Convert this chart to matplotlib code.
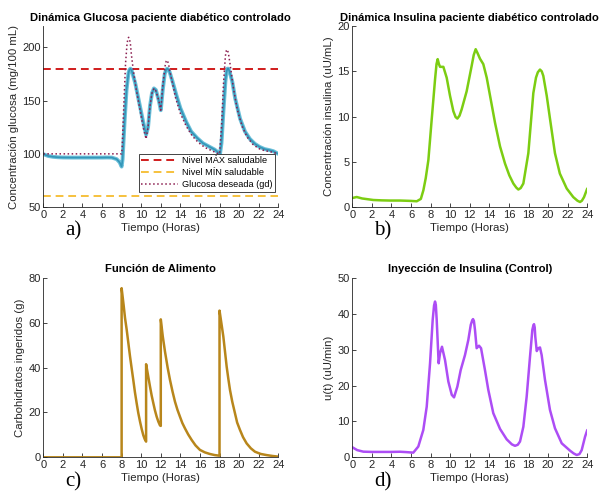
import matplotlib
matplotlib.use("Agg")
import matplotlib.pyplot as plt

plt.rcParams['font.family'] = ['Liberation Sans', 'DejaVu Sans']

# ---- data (time in hours) ----
# a) glucose of the controlled patient
t_glu = [0, 0.5, 1, 1.5, 2, 3, 4, 5, 6, 6.5, 7, 7.5, 7.8, 8.0, 8.1, 8.3, 8.5, 8.7,
         8.8, 8.9, 9.0, 9.1, 9.4, 9.8, 10.2, 10.5, 10.7, 10.9, 11.1, 11.3, 11.5, 11.8,
         12.0, 12.2, 12.4, 12.55, 12.65, 12.75, 12.9, 13.2, 13.6, 14.0, 14.6, 15.1,
         15.7, 16.3, 17.0, 17.5, 17.9, 18.05, 18.2, 18.4, 18.6, 18.7, 18.8, 18.9, 19.0,
         19.3, 19.6, 20.1, 20.6, 21.1, 21.6, 22.1, 22.6, 23.1, 23.5, 24]
glucosa = [99.7, 98, 97.2, 96.8, 96.6, 96.5, 96.5, 96.5, 96.5, 96.6, 96.5, 95, 92, 88,
           95, 130, 160, 176, 179, 180, 179, 176, 166, 148, 130, 118, 125, 145, 157,
           161.5, 160, 150, 141, 160, 175, 179, 180, 179.5, 177, 168, 155, 143, 130,
           121, 115, 110, 106.5, 104, 101, 100, 110, 140, 168, 176, 180, 180, 178, 168,
           152, 133, 121, 114, 109.5, 106.5, 104.5, 103.5, 102.5, 100]

# desired glucose (gd)
t_gd = [0, 8.0, 8.05, 8.2, 8.4, 8.55, 8.65, 8.72, 8.8, 8.9, 9.0, 9.2, 9.5, 9.9, 10.2,
        10.5, 10.7, 10.9, 11.1, 11.3, 11.5, 11.8, 12.0, 12.2, 12.45, 12.55, 12.62, 12.7,
        12.8, 13.1, 13.5, 14.0, 14.6, 15.2, 15.8, 16.5, 17.2, 17.9, 18.0, 18.2, 18.4,
        18.6, 18.7, 18.78, 18.9, 19.1, 19.4, 19.8, 20.3, 20.8, 21.4, 22.0, 22.6, 23.2, 24]
gd = [100, 100, 105, 140, 185, 203, 208.5, 209.5, 208, 203, 193, 178, 160, 140, 125, 114,
      125, 145, 157, 161.5, 159, 150, 141, 165, 183, 187, 188, 187, 184, 170, 153, 138,
      126, 117, 111, 106, 103, 100, 100, 125, 165, 192, 197, 198, 195, 183, 163, 142,
      126, 116, 109, 105, 103, 102, 100]

nivel_max = 180
nivel_min = 60

# b) insulin concentration
t_ins = [0, 0.45, 1, 2.15, 3, 3.85, 4.87, 6.0, 6.58, 7.0, 7.26, 7.5, 7.77, 8.11, 8.45,
         8.6, 8.72, 8.85, 8.96, 9.3, 9.64, 9.98, 10.32, 10.55, 10.73, 10.95, 11.17,
         11.68, 12.19, 12.4, 12.6, 12.8, 13.04, 13.38, 13.73, 14.07, 14.58, 15.09, 15.6,
         16.04, 16.45, 16.75, 16.96, 17.2, 17.47, 17.98, 18.49, 18.76, 18.95, 19.17,
         19.35, 19.51, 19.86, 20.2, 20.7, 21.2, 21.9, 22.57, 23.0, 23.26, 23.45, 23.67, 24]
insulina = [1.0, 1.11, 0.95, 0.78, 0.74, 0.72, 0.72, 0.68, 0.64, 0.9, 1.86, 3.2, 5.2,
            9.7, 14.1, 15.8, 16.35, 15.8, 15.5, 15.5, 14.3, 12.3, 10.6, 9.95, 9.78, 10.1,
            10.8, 12.8, 15.6, 16.8, 17.45, 17.0, 16.4, 15.8, 14.3, 12.3, 9.3, 6.7, 4.8,
            3.5, 2.6, 2.15, 1.94, 2.1, 2.6, 5.95, 12.6, 14.3, 14.9, 15.2, 15.0, 14.5,
            12.3, 9.7, 5.95, 3.7, 2.05, 1.1, 0.7, 0.56, 0.7, 1.1, 2.05]

# c) food function
t_ali = [0, 8.0, 8.0, 8.2, 8.35, 8.52, 8.7, 8.86, 9.03, 9.19, 9.36, 9.54, 9.7, 9.88,
         10.05, 10.21, 10.35, 10.5, 10.5, 10.7, 10.9, 11.07, 11.24, 11.4, 11.58, 11.75,
         11.92, 12.0, 12.0, 12.2, 12.43, 12.7, 12.94, 13.2, 13.45, 13.7, 13.96, 14.2,
         14.47, 14.8, 15.16, 15.55, 16.0, 16.5, 17.0, 17.5, 18.0, 18.0, 18.2, 18.39,
         18.55, 18.73, 18.9, 19.07, 19.3, 19.58, 19.8, 20.09, 20.4, 20.77, 21.2, 21.62,
         22.2, 22.8, 23.4, 24]
alimento = [0, 0, 75.4, 68, 62, 56.8, 50.5, 44.9, 39.5, 34.5, 29, 24.0, 19.8, 15.9,
            12.6, 9.9, 8.2, 7.0, 41.5, 36.5, 31.5, 27.5, 24.1, 21, 18.1, 15.9, 14.2, 14.0,
            61.5, 54, 47.1, 40, 34.5, 29.3, 24.8, 21.2, 18.1, 15.3, 12.9, 10.2, 7.7, 5.3,
            3.3, 2.2, 1.5, 1.0, 0.7, 65.4, 59.5, 53.8, 47.5, 40.4, 35, 30.0, 24.8, 19.6,
            15.5, 12.2, 9.0, 6.2, 4.0, 2.5, 1.5, 1.0, 0.6, 0.3]

# d) insulin injection (control)
t_u = [0, 0.5, 1.13, 2, 3, 4, 4.87, 5.5, 6.23, 6.74, 7.25, 7.6, 7.94, 8.21, 8.35, 8.45,
       8.53, 8.62, 8.82, 8.96, 9.16, 9.47, 9.81, 10.16, 10.39, 10.73, 11.07, 11.51,
       11.85, 12.1, 12.25, 12.33, 12.42, 12.53, 12.7, 12.94, 13.15, 13.55, 13.89, 14.4,
       15.09, 15.77, 16.3, 16.62, 16.9, 17.13, 17.47, 17.81, 18.15, 18.39, 18.5, 18.56,
       18.63, 18.69, 18.84, 19.0, 19.17, 19.34, 19.68, 20.19, 20.7, 21.39, 22.24, 22.6,
       22.92, 23.2, 23.43, 23.77, 24]
u = [2.8, 2.0, 1.57, 1.5, 1.5, 1.5, 1.55, 1.45, 1.3, 3.0, 7.6, 14.1, 26.2, 38.3, 42.3,
     43.4, 42.5, 38.3, 26.2, 29.0, 30.8, 27.1, 21.1, 17.4, 16.7, 19.7, 24.3, 28.5, 32.7,
     36.9, 38.2, 38.5, 38.0, 35.5, 30.4, 31.1, 30.4, 24.3, 18.8, 12.3, 7.9, 5.0, 3.6,
     3.2, 3.5, 4.4, 8.5, 16.9, 28.0, 35.5, 36.8, 37.1, 36.2, 33.6, 29.6, 30.4, 30.6, 28.5,
     21.6, 13.2, 8.1, 3.9, 1.85, 1.1, 0.64, 0.9, 2.0, 5.7, 7.6]

xticks = list(range(0, 25, 2))
grey = '#262626'


def style_axes(ax, ylim, yticks, ylabel, title):
    ax.set_xlim(0, 24)
    ax.set_ylim(*ylim)
    ax.set_xticks(xticks)
    ax.set_yticks(yticks)
    ax.spines['top'].set_visible(False)
    ax.spines['right'].set_visible(False)
    for s in ('left', 'bottom'):
        ax.spines[s].set_color(grey)
        ax.spines[s].set_linewidth(0.6)
    ax.tick_params(direction='in', length=3, width=0.6, colors=grey, labelsize=8,
                   pad=2)
    ax.set_xlabel('Tiempo (Horas)', fontsize=8.2, color=grey, labelpad=2)
    ax.set_ylabel(ylabel, fontsize=8.2, color=grey, labelpad=2)
    ax.set_title(title, fontsize=8.1, fontweight='bold', color='black', pad=4)


fig = plt.figure(figsize=(6.04, 4.93), dpi=100)

ax_a = fig.add_axes([0.0717, 0.580, 0.389, 0.367])
ax_b = fig.add_axes([0.5833, 0.580, 0.389, 0.367])
ax_c = fig.add_axes([0.0717, 0.0724, 0.389, 0.364])
ax_d = fig.add_axes([0.5833, 0.0724, 0.389, 0.364])

line_kw = dict(solid_joinstyle='round', solid_capstyle='round')

# a) glucose
ax_a.axhline(nivel_max, color='#d01c1c', linestyle='--', linewidth=1.4,
             dashes=(4, 2.5), label='Nivel MÁX saludable')
ax_a.axhline(nivel_min, color='#f6c13d', linestyle='--', linewidth=1.4,
             dashes=(4, 2.5), label='Nivel MÍN saludable')
ax_a.plot(t_glu, glucosa, color='#6cc0da', linewidth=2.8, **line_kw)
ax_a.plot(t_glu, glucosa, color='#3496b8', linewidth=1.2, **line_kw)
ax_a.plot(t_gd, gd, color='#8b1d4f', linestyle=':', linewidth=1.1,
          label='Glucosa deseada (gd)')
style_axes(ax_a, (50, 220), [50, 100, 150, 200], 'Concentración glucosa (mg/100 mL)',
           'Dinámica Glucosa paciente diabético controlado')
leg = ax_a.legend(loc='lower right', bbox_to_anchor=(1.005, 0.06), fontsize=6.6,
                  handlelength=4.0, handletextpad=0.4, borderpad=0.3,
                  labelspacing=0.3, fancybox=False, framealpha=1)
leg.get_frame().set_edgecolor(grey)
leg.get_frame().set_linewidth(0.6)

# b) insulin
ax_b.plot(t_ins, insulina, color='#7ccd12', linewidth=1.8, **line_kw)
style_axes(ax_b, (0, 20), [0, 5, 10, 15, 20], 'Concentración insulina (uU/mL)',
           'Dinámica Insulina paciente diabético controlado')

# c) food
ax_c.plot(t_ali, alimento, color='#b8861b', linewidth=1.8, **line_kw)
style_axes(ax_c, (0, 80), [0, 20, 40, 60, 80], 'Carbohidratos ingeridos (g)',
           'Función de Alimento')

# d) insulin injection
ax_d.plot(t_u, u, color='#ad4df5', linewidth=1.8, **line_kw)
style_axes(ax_d, (0, 50), [0, 10, 20, 30, 40, 50], 'u(t) (uU/min)',
           'Inyección de Insulina (Control)')

# panel letters
for x, y, s in [(0.121, 0.531, 'a)'), (0.633, 0.531, 'b)'),
                (0.121, 0.023, 'c)'), (0.634, 0.023, 'd)')]:
    fig.text(x, y, s, fontsize=15, family=['Liberation Serif', 'DejaVu Serif'],
             ha='center', va='center')

fig.savefig('out.png', dpi=100)
